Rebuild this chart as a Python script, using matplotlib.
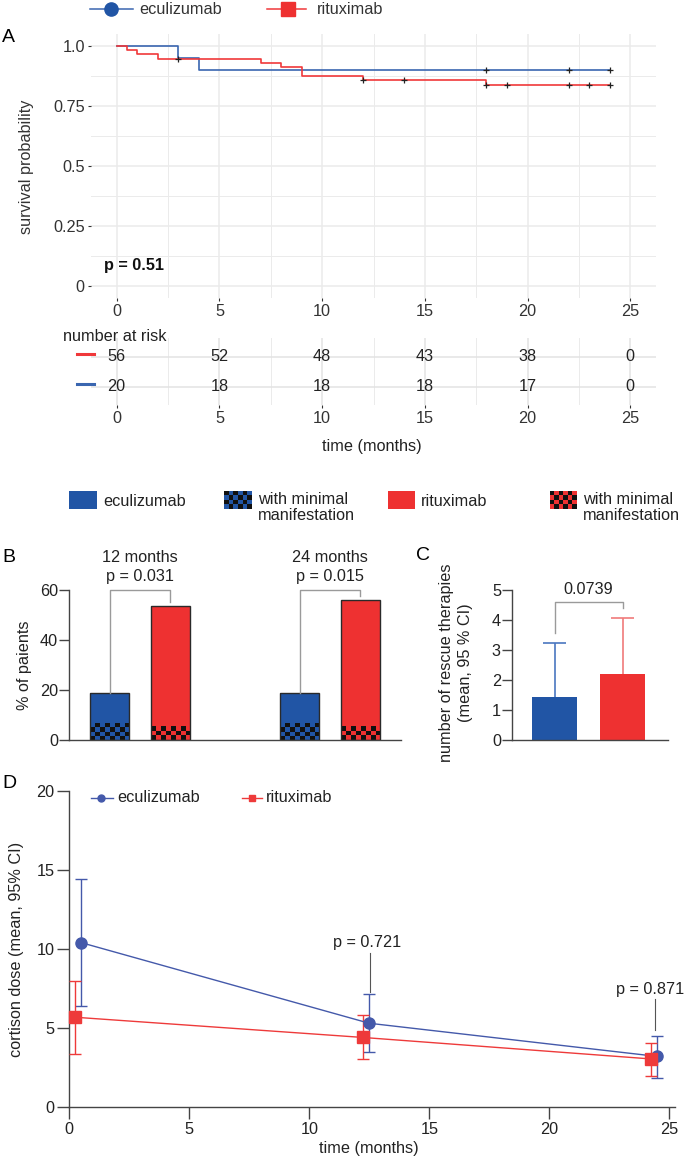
import numpy as np
import matplotlib
matplotlib.use("Agg")
import matplotlib.pyplot as plt
from matplotlib.lines import Line2D
from matplotlib.patches import Rectangle
from matplotlib.colors import to_rgba

plt.rcParams['font.family'] = ['Liberation Sans', 'DejaVu Sans']
FS = 11.7

# ---------------- data ----------------
# Panel A: Kaplan-Meier
ecu_km_times = [0, 3, 4, 24]
ecu_km_surv = [1.0, 0.95, 0.90, 0.90]
ecu_censor = [18, 22, 24]
rit_km_times = [0, 0.5, 1, 2, 7, 8, 9, 12, 18, 24]
rit_km_surv = [1.0, 0.982, 0.964, 0.946, 0.929, 0.911, 0.875, 0.857, 0.837, 0.837]
rit_censor = [3, 12, 14, 18, 19, 22, 23, 24]
km_pvalue = "p = 0.51"
risk_times = [0, 5, 10, 15, 20, 25]
rit_at_risk = [56, 52, 48, 43, 38, 0]
ecu_at_risk = [20, 18, 18, 18, 17, 0]
a_yticks = [0, 0.25, 0.5, 0.75, 1.0]
a_yticklabels = ['0', '0.25', '0.5', '0.75', '1.0']

# Panel B
b_groups = ['12 months', '24 months']
b_pvalues = ['p = 0.031', 'p = 0.015']
ecu_pct = [18.75, 18.8]
ecu_minimal = [6.7, 6.7]
rit_pct = [53.6, 56.0]
rit_minimal = [5.5, 5.5]

# Panel C
c_mean = [1.42, 2.2]
c_ci_upper = [3.22, 4.06]
c_pvalue = "0.0739"

# Panel D
d_time = [0, 12, 24]
ecu_dose = [10.4, 5.3, 3.2]
ecu_lo = [6.4, 3.47, 1.86]
ecu_hi = [14.4, 7.17, 4.5]
rit_dose = [5.68, 4.4, 3.04]
rit_lo = [3.37, 3.04, 1.96]
rit_hi = [7.97, 5.85, 4.08]
d_pvalues = ['p = 0.721', 'p = 0.871']

# ---------------- style ----------------
BLUE = '#2155A5'
RED = '#EE3131'
KM_BLUE = '#3A66B0'
KM_RED = '#F0383A'
D_BLUE = '#4459AA'
D_RED = '#EE3A3A'
GRID = '#EBEBEB'
TXT = '#333333'
AX = '#444444'

W, H = 685, 1157
fig = plt.figure(figsize=(W / 100, H / 100), dpi=100)


def rect(l, t, r, b):
    return [l / W, 1 - b / H, (r - l) / W, (b - t) / H]


def fx(x):
    return x / W


def fy(y):
    return 1 - y / H


def step_val(times, surv, t):
    idx = np.searchsorted(np.asarray(times), np.asarray(t), side='right') - 1
    return np.asarray(surv)[idx]


# ================= Panel A =================
axA = fig.add_axes(rect(91, 33.7, 656, 298))
axA.step(ecu_km_times, ecu_km_surv, where='post', color=KM_BLUE, lw=1.2, zorder=3)
axA.step(rit_km_times, rit_km_surv, where='post', color=KM_RED, lw=1.2, zorder=3)
axA.plot(ecu_censor, step_val(ecu_km_times, ecu_km_surv, ecu_censor), '+', ms=5,
         mew=0.9, color='#222222', zorder=4)
axA.plot(rit_censor, step_val(rit_km_times, rit_km_surv, rit_censor), '+', ms=5,
         mew=0.9, color='#222222', zorder=4)
axA.set_xlim(-1.25, 26.25)
axA.set_ylim(-0.05, 1.05)
axA.set_xticks(risk_times)
axA.set_xticks([2.5, 7.5, 12.5, 17.5, 22.5], minor=True)
axA.set_yticks(a_yticks)
axA.set_yticklabels(a_yticklabels)
axA.set_yticks([0.125, 0.375, 0.625, 0.875], minor=True)
axA.grid(True, which='major', color=GRID, lw=1.1)
axA.grid(True, which='minor', color=GRID, lw=0.7)
axA.set_axisbelow(True)
for s in axA.spines.values():
    s.set_visible(False)
axA.tick_params(which='major', length=2.5, width=0.8, color=TXT, labelcolor=TXT,
                labelsize=FS, pad=2)
axA.tick_params(which='minor', length=0)
axA.text(-0.6, 0.087, km_pvalue, fontweight='bold', fontsize=FS, ha='left', va='center',
         color='#111111')
fig.text(fx(26), fy(167), 'survival probability', rotation=90, ha='center', va='center',
         fontsize=FS, color=TXT)
fig.text(fx(2), fy(38), 'A', fontsize=14, ha='left', va='center')

# legend A
for (x0, x1, xm, xt, col, mk, lab) in [(90, 133, 111, 139, KM_BLUE, 'o', 'eculizumab'),
                                       (267, 306, 288, 317, KM_RED, 's', 'rituximab')]:
    fig.add_artist(Line2D([fx(x0), fx(x1)], [fy(9), fy(9)], color=col, lw=1.1))
    fig.add_artist(Line2D([fx(xm)], [fy(9)], marker=mk, ms=9.5,
                          color=BLUE if mk == 'o' else RED, lw=0))
    fig.text(fx(xt), fy(9), lab, fontsize=FS, ha='left', va='center', color=TXT)

# risk table
axR = fig.add_axes(rect(91, 338, 656, 405))
axR.set_xlim(-1.25, 26.25)
axR.set_ylim(0.4, 2.633)
axR.set_xticks(risk_times)
axR.set_xticks([2.5, 7.5, 12.5, 17.5, 22.5], minor=True)
axR.set_yticks([1, 2])
axR.set_yticklabels([])
axR.grid(True, which='major', color='#E3E3E3', lw=1.1)
axR.grid(True, which='minor', axis='x', color=GRID, lw=0.7)
axR.set_axisbelow(True)
for s in axR.spines.values():
    s.set_visible(False)
axR.tick_params(axis='x', which='major', length=2.5, width=0.8, color=TXT, labelcolor=TXT,
                labelsize=FS, pad=2)
axR.tick_params(axis='y', length=0)
axR.tick_params(which='minor', length=0)
for t, r, e in zip(risk_times, rit_at_risk, ecu_at_risk):
    axR.text(t, 2, str(r), ha='center', va='center', fontsize=FS, color='#222222')
    axR.text(t, 1, str(e), ha='center', va='center', fontsize=FS, color='#222222')
fig.add_artist(Line2D([fx(77), fx(94)], [fy(354), fy(354)], color=KM_RED, lw=2.2))
fig.add_artist(Line2D([fx(77), fx(94)], [fy(384), fy(384)], color=KM_BLUE, lw=2.2))
fig.text(fx(63), fy(337), 'number at risk', fontsize=FS, ha='left', va='center', color='#222222')
fig.text(fx(372), fy(446), 'time (months)', fontsize=FS, ha='center', va='center', color='#222222')


# ================= legend B =================
def checker_img(nrows, ncols, color):
    g = np.indices((nrows, ncols)).sum(axis=0) % 2
    c1 = np.array(to_rgba(color))
    c2 = np.array(to_rgba('#101010'))
    return np.where(g[..., None] == 1, c1, c2)


legend_items = [(69, 97, BLUE, False, 'eculizumab'),
                (224, 252, BLUE, True, 'with minimal\nmanifestation'),
                (388, 415, RED, False, 'rituximab'),
                (550, 577, RED, True, 'with minimal\nmanifestation')]
for (l, r, col, chk, lab) in legend_items:
    if chk:
        axl = fig.add_axes(rect(l, 491, r, 509))
        axl.imshow(checker_img(4, 6, col), aspect='auto', interpolation='nearest')
        axl.axis('off')
    else:
        fig.add_artist(Rectangle((fx(l), fy(509)), (r - l) / W, 18 / H, facecolor=col,
                                 edgecolor='none', transform=fig.transFigure))
    fig.text(fx(r + 6), fy(501), lab, fontsize=FS, ha='left', va='top' if chk else 'center',
             color='#222222', linespacing=1.15) if False else None
    if chk:
        fig.text(fx(r + 6), fy(492), lab, fontsize=FS, ha='left', va='top',
                 color='#222222', linespacing=1.12)
    else:
        fig.text(fx(r + 6), fy(501), lab, fontsize=FS, ha='left', va='center',
                 color='#222222')

# ================= Panel B =================
axB = fig.add_axes(rect(69, 590, 401, 739.5))
gx = np.arange(len(b_groups))
off, bw = 0.16, 0.208
xb = gx - off
xr = gx + off
axB.bar(xb, ecu_pct, width=bw, color=BLUE, edgecolor='none', zorder=1)
axB.bar(xr, rit_pct, width=bw, color=RED, edgecolor='none', zorder=1)
pxx, pxy = 190.0, 2.49
for xs, vals, col in [(xb, ecu_minimal, BLUE), (xr, rit_minimal, RED)]:
    for x, v in zip(xs, vals):
        nc = max(1, int(round(bw * pxx / 5)))
        nr = max(1, int(round(v * pxy / 4.3)))
        axB.imshow(checker_img(nr, nc, col), extent=(x - bw / 2, x + bw / 2, 0, v),
                   aspect='auto', interpolation='nearest', origin='lower', zorder=2)
axB.bar(xb, ecu_pct, width=bw, fill=False, edgecolor='#2A2A2A', lw=1.0, zorder=3)
axB.bar(xr, rit_pct, width=bw, fill=False, edgecolor='#2A2A2A', lw=1.0, zorder=3)
for i in range(len(b_groups)):
    top = 60
    axB.plot([xb[i], xb[i], xr[i], xr[i]], [ecu_pct[i], top, top, rit_pct[i] + 1.6],
             color='#9A9A9A', lw=1.0, clip_on=False, zorder=4)
    axB.text(gx[i], 72.9, b_groups[i], ha='center', va='center', fontsize=FS, color='#222222',
             clip_on=False)
    axB.text(gx[i], 65.3, b_pvalues[i], ha='center', va='center', fontsize=FS, color='#222222',
             clip_on=False)
axB.set_xlim(-0.374, 1.374)
axB.set_ylim(0, 60)
axB.set_yticks([0, 20, 40, 60])
axB.set_xticks([])
for s in ['top', 'right']:
    axB.spines[s].set_visible(False)
for s in ['left', 'bottom']:
    axB.spines[s].set_color(AX)
    axB.spines[s].set_linewidth(1.0)
axB.tick_params(axis='y', length=7, width=1.0, color=AX, labelsize=FS, labelcolor='#222222', pad=1)
fig.text(fx(25), fy(665), '% of paients', rotation=90, ha='center', va='center', fontsize=FS,
         color='#222222')
fig.text(fx(2), fy(558), 'B', fontsize=14, ha='left', va='center')

# ================= Panel C =================
axC = fig.add_axes(rect(512, 590, 668, 740))
cx = np.arange(2)
cw = 0.66
axC.bar(cx, c_mean, width=cw, color=[BLUE, RED], edgecolor='none', zorder=2)
for x, m, u, col in zip(cx, c_mean, c_ci_upper, ['#4A77C0', '#F07A7A']):
    axC.vlines(x, m, u, color=col, lw=1.2, zorder=1)
    axC.hlines(u, x - 0.17, x + 0.17, color=col, lw=1.2, zorder=1)
axC.plot([cx[0], cx[0], cx[1], cx[1]], [c_ci_upper[0] + 0.35, 4.61, 4.61, c_ci_upper[1] + 0.34],
         color='#9A9A9A', lw=1.0, clip_on=False)
axC.text(0.49, 5.0, c_pvalue, ha='center', va='center', fontsize=FS, color='#222222',
         clip_on=False)
axC.set_xlim(-0.625, 1.669)
axC.set_ylim(0, 5)
axC.set_yticks([0, 1, 2, 3, 4, 5])
axC.set_xticks([])
for s in ['top', 'right']:
    axC.spines[s].set_visible(False)
for s in ['left', 'bottom']:
    axC.spines[s].set_color(AX)
    axC.spines[s].set_linewidth(1.0)
axC.tick_params(axis='y', length=7, width=1.0, color=AX, labelsize=FS, labelcolor='#222222', pad=1)
fig.text(fx(456), fy(663), 'number of rescue therapies\n(mean, 95 % CI)', rotation=90,
         ha='center', va='center', fontsize=FS, color='#222222', linespacing=1.3,
         multialignment='center')
fig.text(fx(423), fy(555), 'C', fontsize=14, ha='center', va='center')

# ================= Panel D =================
axD = fig.add_axes(rect(69.3, 791, 675, 1107))
t = np.asarray(d_time, dtype=float)
for dodge, mean, lo, hi, col, mk, ms in [(0.5, ecu_dose, ecu_lo, ecu_hi, D_BLUE, 'o', 8),
                                         (0.25, rit_dose, rit_lo, rit_hi, D_RED, 's', 8.5)]:
    mean = np.asarray(mean)
    err = [mean - np.asarray(lo), np.asarray(hi) - mean]
    axD.errorbar(t + dodge, mean, yerr=err, color=col, lw=1.0, capsize=4, capthick=1.0,
                 marker=mk, ms=ms, mfc=col, mec=col, zorder=3, clip_on=False)
axD.text(12.4, 10.4, d_pvalues[0], ha='center', va='center', fontsize=FS, color='#222222')
axD.plot([12.55, 12.55], [9.77, 7.3], color='#555555', lw=0.8)
axD.text(24.2, 7.45, d_pvalues[1], ha='center', va='center', fontsize=FS, color='#222222',
         clip_on=False)
axD.plot([24.4, 24.4], [6.82, 4.87], color='#555555', lw=0.8)
axD.set_xlim(0, 25.24)
axD.set_ylim(0, 20)
axD.set_xticks([0, 5, 10, 15, 20, 25])
axD.set_yticks([0, 5, 10, 15, 20])
for s in ['top', 'right']:
    axD.spines[s].set_visible(False)
for s in ['left', 'bottom']:
    axD.spines[s].set_color(AX)
    axD.spines[s].set_linewidth(1.0)
axD.tick_params(length=8.5, width=1.0, color=AX, labelsize=FS, labelcolor='#222222', pad=2)
fig.text(fx(17), fy(949), 'cortison dose (mean, 95% CI)', rotation=90, ha='center',
         va='center', fontsize=FS, color='#222222')
fig.text(fx(369), fy(1148), 'time (months)', ha='center', va='center', fontsize=FS,
         color='#222222')
fig.text(fx(2), fy(784), 'D', fontsize=14, ha='left', va='center')
for (x0, x1, xm, xt, col, mk, lab) in [(91, 113, 101, 117, D_BLUE, 'o', 'eculizumab'),
                                       (242, 262, 252, 266, D_RED, 's', 'rituximab')]:
    fig.add_artist(Line2D([fx(x0), fx(x1)], [fy(798), fy(798)], color=col, lw=1.0))
    fig.add_artist(Line2D([fx(xm)], [fy(798)], marker=mk, ms=5, color=col, lw=0))
    fig.text(fx(xt), fy(798), lab, fontsize=FS, ha='left', va='center', color='#222222')

fig.savefig('out.png', dpi=100)
